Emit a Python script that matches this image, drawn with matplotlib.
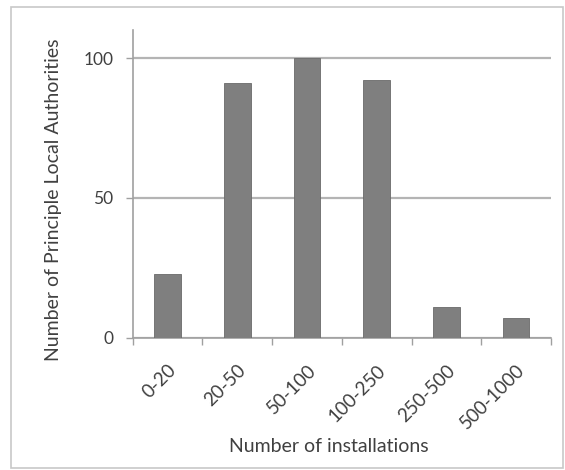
import matplotlib.pyplot as plt
from matplotlib.patches import Rectangle
import numpy as np

# categorias y cantidades
rangos = ["0-20", "20-50", "50-100", "100-250", "250-500", "500-1000"]
autoridades = [23, 91, 100, 92, 11, 7]
marcas_y = [0, 50, 100]

plt.rcParams["font.family"] = ["Lato", "DejaVu Sans"]
color_texto = "#404040"

fig = plt.figure(figsize=(5.65, 4.70), dpi=100)
ax = fig.add_axes([0.235, 0.281, 0.74, 0.655])

# marco exterior del grafico
fig.patches.append(Rectangle((0.019, 0.004), 0.978, 0.981, transform=fig.transFigure,
                             fill=False, edgecolor="#c8c8c8", linewidth=1.2))

x = np.arange(len(rangos))
ax.bar(x, autoridades, width=0.38, color="#7f7f7f", edgecolor="#6a6a6a",
       linewidth=0.6, zorder=3)

ax.set_xlim(-0.5, len(rangos) - 0.5)
ax.set_ylim(0, 110)
ax.set_yticks(marcas_y)
ax.set_yticklabels([str(v) for v in marcas_y], fontsize=12.5, color=color_texto)
ax.yaxis.grid(True, color="#b4b4b4", linewidth=1.6, zorder=0)

ax.set_xticks(x)
ax.set_xticklabels(rangos, rotation=45, ha="right", rotation_mode="anchor",
                   fontsize=13.5, color=color_texto)
ax.tick_params(axis="x", which="major", length=0, pad=17)
ax.set_xticks(np.arange(-0.5, len(rangos)), minor=True)
ax.tick_params(axis="x", which="minor", length=5, color="#a0a0a0", width=1)
ax.tick_params(axis="y", length=5, color="#a0a0a0", width=1, pad=9)

for lado in ["top", "right"]:
    ax.spines[lado].set_visible(False)
ax.spines["left"].set_color("#a0a0a0")
ax.spines["bottom"].set_color("#a0a0a0")
ax.spines["left"].set_linewidth(1.2)
ax.spines["bottom"].set_linewidth(1.2)

ax.set_xlabel("Number of installations", fontsize=14, color=color_texto)
ax.xaxis.set_label_coords(0.469, -0.325)
ax.set_ylabel("Number of Principle Local Authorities", fontsize=14, color=color_texto)
ax.yaxis.set_label_coords(-0.17, 0.45)

fig.savefig("out.png", dpi=100)
